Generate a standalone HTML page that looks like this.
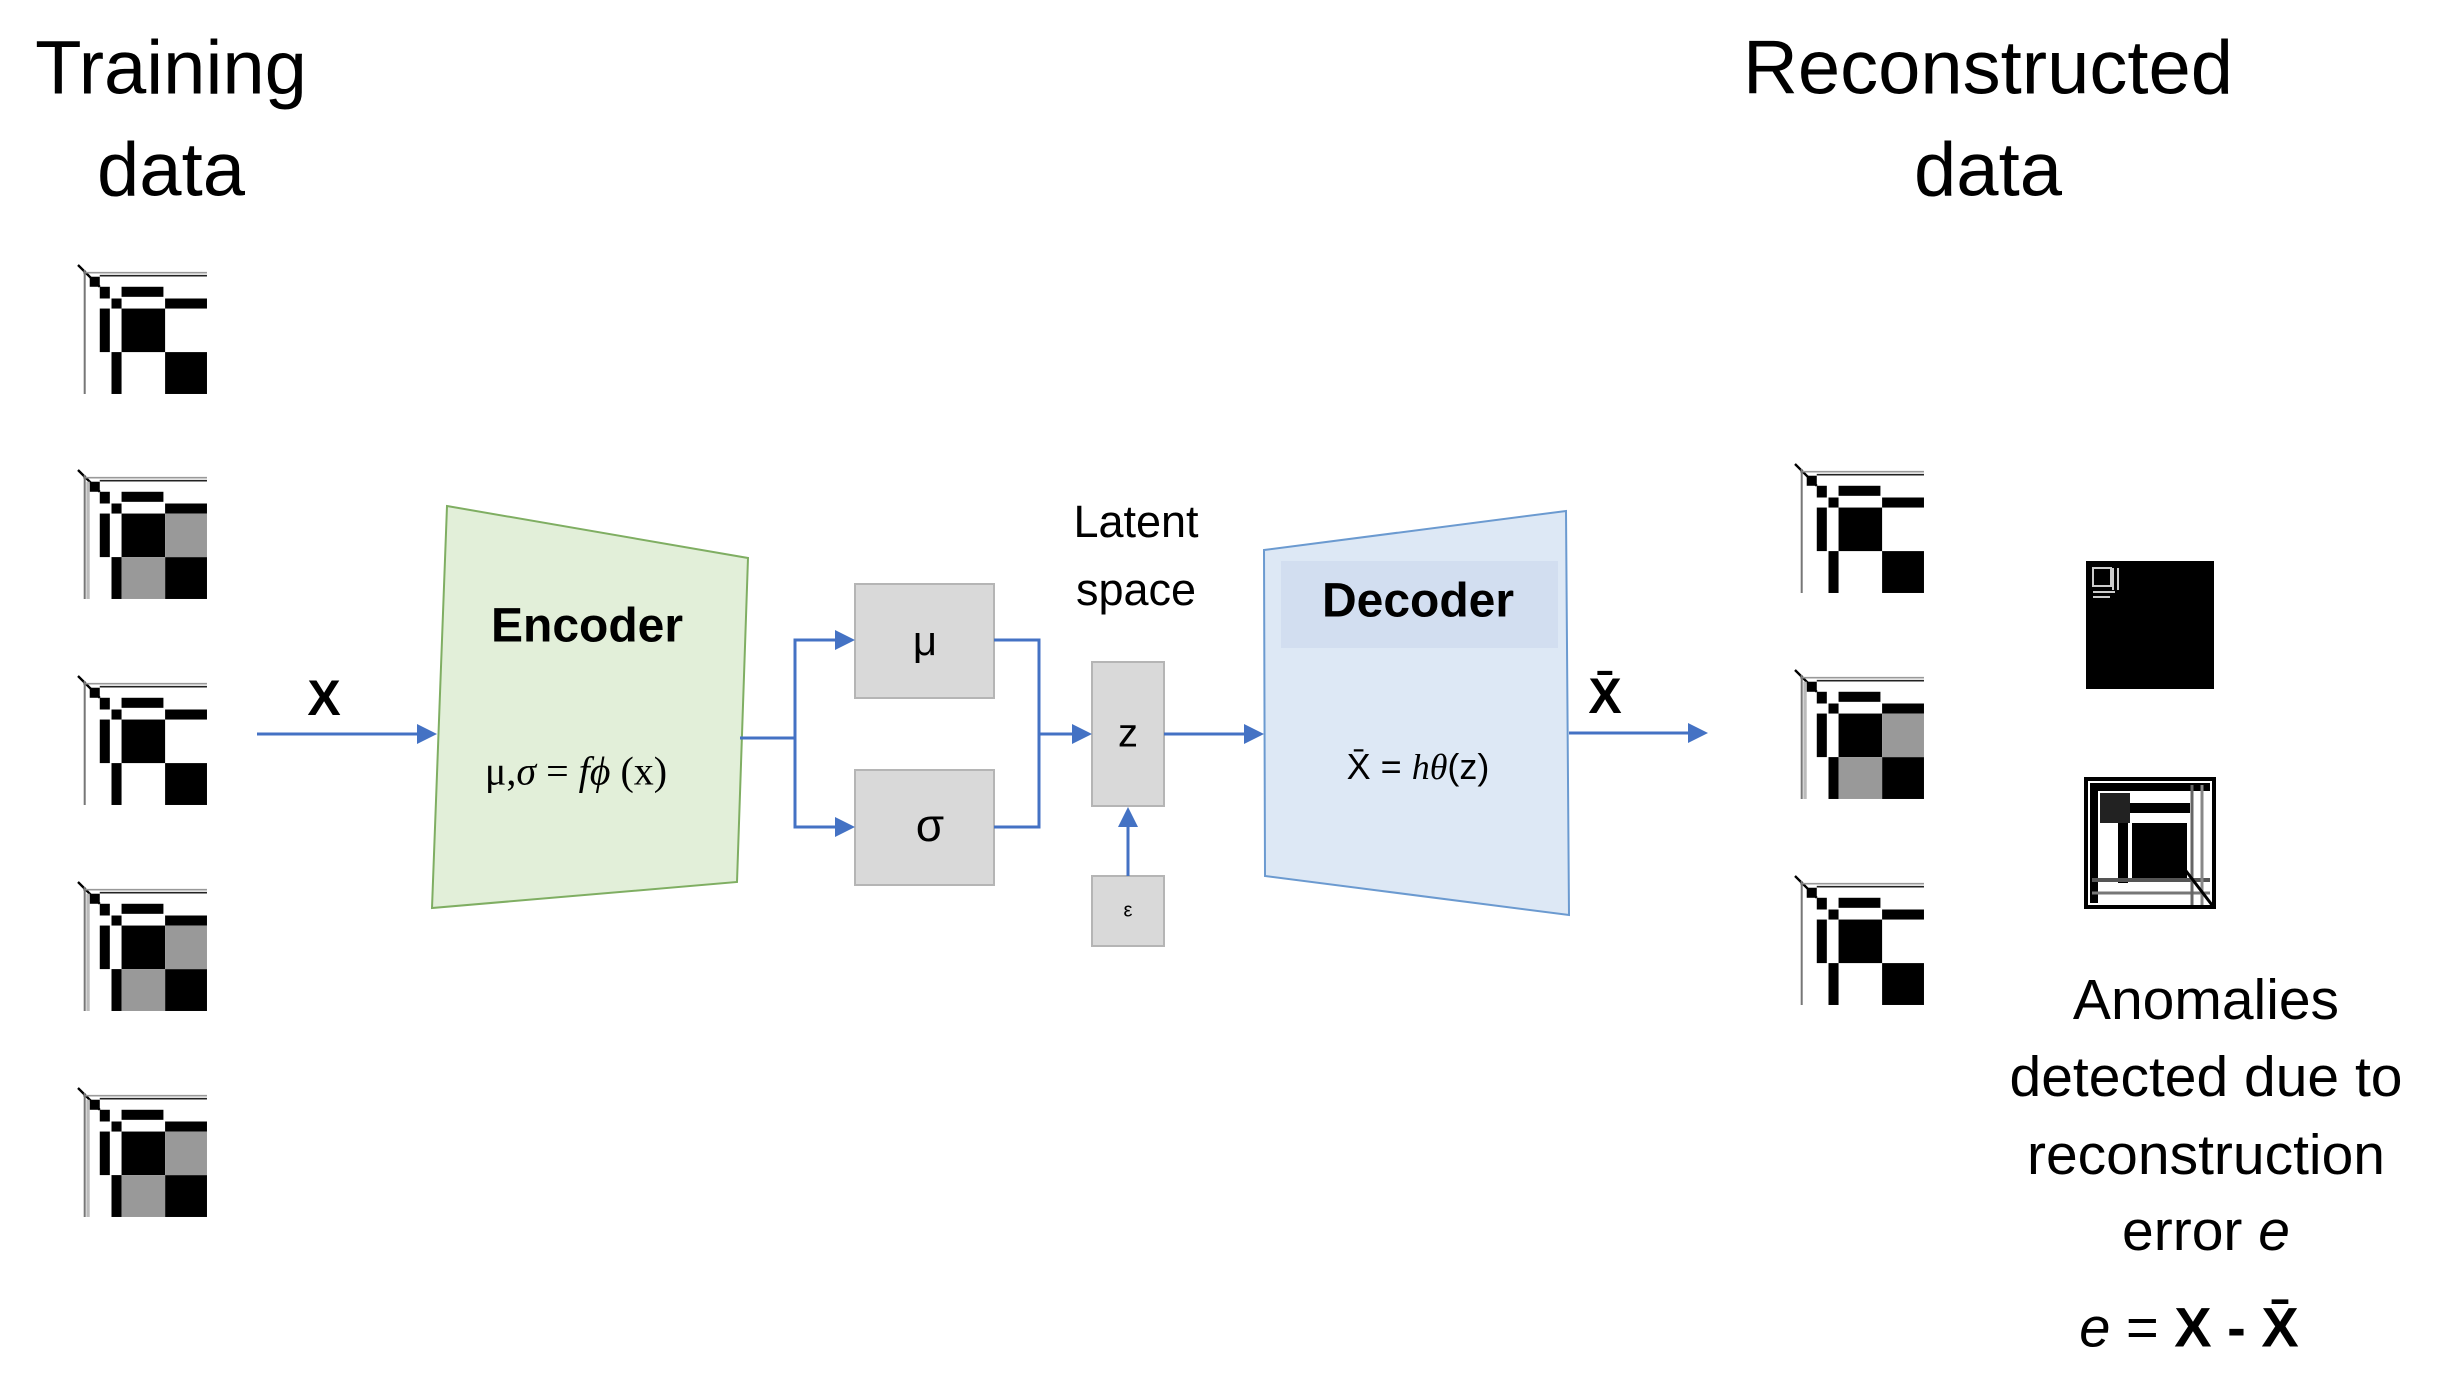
<!DOCTYPE html>
<html><head><meta charset="utf-8"><style>
html,body{margin:0;padding:0;background:#fff}
body{width:2443px;height:1382px;position:relative;overflow:hidden;font-family:"Liberation Sans",sans-serif}
.t{position:absolute;transform:translate(-50%,-50%);white-space:nowrap;color:#000}
</style></head><body>
<svg width="2443" height="1382" style="position:absolute;left:0;top:0" xmlns="http://www.w3.org/2000/svg">
<defs>
<g id="th">
 <rect x="25" y="25" width="385" height="390" fill="#fff"/>
 <line x1="25" y1="25" x2="90" y2="90" stroke="#000" stroke-width="7"/>
 <line x1="40" y1="48" x2="410" y2="48" stroke="#999" stroke-width="5"/>
 <line x1="90" y1="57" x2="410" y2="57" stroke="#222" stroke-width="5"/>
 <line x1="45" y1="40" x2="45" y2="410" stroke="#777" stroke-width="6"/>
 <rect x="60" y="60" width="30" height="30" fill="#000"/>
 <rect x="90" y="90" width="30" height="35" fill="#000"/>
 <rect x="125" y="125" width="30" height="30" fill="#000"/>
 <rect x="155" y="90" width="125" height="30" fill="#000"/>
 <rect x="285" y="125" width="125" height="30" fill="#000"/>
 <rect x="90" y="155" width="30" height="130" fill="#000"/>
 <rect x="125" y="285" width="30" height="125" fill="#000"/>
 <rect x="155" y="155" width="130" height="130" fill="#000"/>
 <rect x="285" y="285" width="125" height="125" fill="#000"/>
</g>
<g id="thg">
 <use href="#th"/>
 <rect x="285" y="155" width="125" height="130" fill="#999"/>
 <rect x="155" y="285" width="130" height="125" fill="#999"/>
 <rect x="50" y="60" width="10" height="350" fill="#bbb"/>
</g>
</defs>
<use href="#th" transform="translate(78,265) scale(0.335) translate(-25,-25)"/>
<use href="#thg" transform="translate(78,470) scale(0.335) translate(-25,-25)"/>
<use href="#th" transform="translate(78,676) scale(0.335) translate(-25,-25)"/>
<use href="#thg" transform="translate(78,882) scale(0.335) translate(-25,-25)"/>
<use href="#thg" transform="translate(78,1088) scale(0.335) translate(-25,-25)"/>
<use href="#th" transform="translate(1795,464) scale(0.335) translate(-25,-25)"/>
<use href="#thg" transform="translate(1795,670) scale(0.335) translate(-25,-25)"/>
<use href="#th" transform="translate(1795,876) scale(0.335) translate(-25,-25)"/>
<rect x="2086" y="561" width="128" height="128" fill="#000"/>
<g stroke="#ccc" stroke-width="2" fill="none">
 <rect x="2093" y="568" width="18" height="18"/>
 <line x1="2113" y1="568" x2="2113" y2="590"/><line x1="2118" y1="568" x2="2118" y2="590"/>
 <line x1="2093" y1="592" x2="2115" y2="592"/><line x1="2093" y1="597" x2="2110" y2="597"/>
</g>
<rect x="2086" y="779" width="128" height="128" fill="#fff" stroke="#000" stroke-width="4"/>
<rect x="2090" y="783" width="120" height="8" fill="#000"/>
<rect x="2090" y="783" width="8" height="120" fill="#000"/>
<rect x="2100" y="793" width="30" height="30" fill="#222"/>
<rect x="2130" y="803" width="60" height="10" fill="#000"/>
<rect x="2118" y="823" width="10" height="60" fill="#000"/>
<rect x="2132" y="823" width="55" height="55" fill="#000"/>
<line x1="2092" y1="880" x2="2210" y2="880" stroke="#555" stroke-width="4"/>
<line x1="2092" y1="893" x2="2210" y2="893" stroke="#777" stroke-width="3"/>
<line x1="2192" y1="785" x2="2192" y2="905" stroke="#666" stroke-width="3"/>
<line x1="2202" y1="785" x2="2202" y2="905" stroke="#888" stroke-width="3"/>
<line x1="2170" y1="850" x2="2212" y2="905" stroke="#000" stroke-width="3"/>
<polygon points="447,506 748,558 737,882 432,908" fill="#e2efd9" stroke="#7fae62" stroke-width="2"/>
<polygon points="1264,550 1566,511 1569,915 1265,876" fill="#dde8f5" stroke="#6b9ad0" stroke-width="2"/>
<rect x="1281" y="561" width="277" height="87" fill="#d2def0"/>
<g fill="#d9d9d9" stroke="#b5b5b5" stroke-width="2">
 <rect x="855" y="584" width="139" height="114"/>
 <rect x="855" y="770" width="139" height="115"/>
 <rect x="1092" y="662" width="72" height="144"/>
 <rect x="1092" y="876" width="72" height="70"/>
</g>
<g stroke="#4472c4" stroke-width="3" fill="none">
 <line x1="257" y1="734" x2="425" y2="734"/>
 <polyline points="740,738 795,738"/>
 <polyline points="842,640 795,640 795,827 842,827"/>
 <polyline points="994,640 1039,640 1039,827 994,827"/>
 <line x1="1039" y1="734" x2="1080" y2="734"/>
 <line x1="1128" y1="876" x2="1128" y2="820"/>
 <line x1="1164" y1="734" x2="1250" y2="734"/>
 <line x1="1569" y1="733" x2="1692" y2="733"/>
</g>
<g fill="#4472c4">
 <polygon points="437,734 417,724 417,744"/>
 <polygon points="855,640 835,630 835,650"/>
 <polygon points="855,827 835,817 835,837"/>
 <polygon points="1092,734 1072,724 1072,744"/>
 <polygon points="1128,807 1118,827 1138,827"/>
 <polygon points="1264,734 1244,724 1244,744"/>
 <polygon points="1708,733 1688,723 1688,743"/>
</g>
</svg>
<div class="t" style="left:171px;top:68px;font-size:76px">Training</div>
<div class="t" style="left:171px;top:170px;font-size:76px">data</div>
<div class="t" style="left:1988px;top:68px;font-size:76px">Reconstructed</div>
<div class="t" style="left:1988px;top:170px;font-size:76px">data</div>
<div class="t" style="left:324px;top:698px;font-size:50px;font-weight:bold">X</div>
<div class="t" style="left:587px;top:626px;font-size:48px;font-weight:bold">Encoder</div>
<div class="t" style="left:576px;top:771px;font-size:40px;font-family:'Liberation Serif',serif">μ,<i>σ</i> = <i>fϕ</i> (x)</div>
<div class="t" style="left:925px;top:641px;font-size:42px">μ</div>
<div class="t" style="left:930px;top:825px;font-size:46px">σ</div>
<div class="t" style="left:1136px;top:522px;font-size:45px">Latent</div>
<div class="t" style="left:1136px;top:590px;font-size:45px">space</div>
<div class="t" style="left:1128px;top:734px;font-size:40px">z</div>
<div class="t" style="left:1128px;top:911px;font-size:20px">ε</div>
<div class="t" style="left:1418px;top:601px;font-size:48px;font-weight:bold">Decoder</div>
<div class="t" style="left:1418px;top:767px;font-size:36px">X̄ = <i style="font-family:'Liberation Serif',serif">hθ</i>(z)</div>
<div class="t" style="left:1605px;top:696px;font-size:50px;font-weight:bold">X̄</div>
<div class="t" style="left:2206px;top:1000px;font-size:57px">Anomalies</div>
<div class="t" style="left:2206px;top:1077px;font-size:57px">detected due to</div>
<div class="t" style="left:2206px;top:1155px;font-size:57px">reconstruction</div>
<div class="t" style="left:2206px;top:1231px;font-size:57px">error <i>e</i></div>
<div class="t" style="left:2189px;top:1327px;font-size:56px"><i>e</i> = <b>X - X̄</b></div>
</body></html>
